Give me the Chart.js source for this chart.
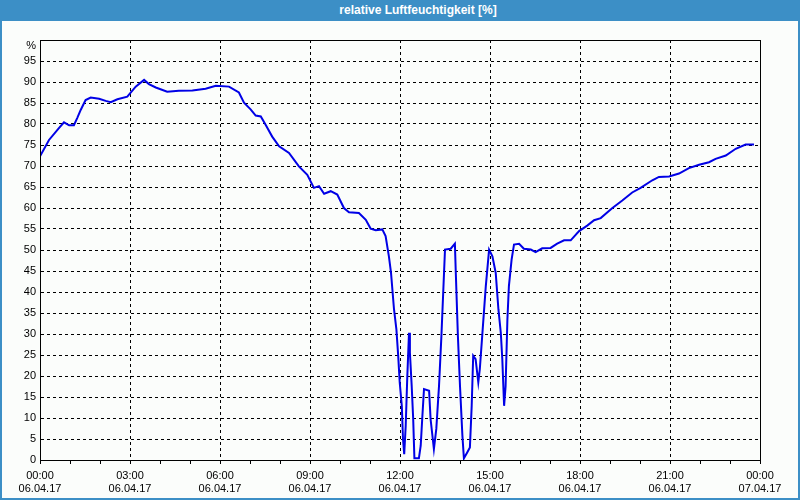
<!DOCTYPE html>
<html>
<head>
<meta charset="utf-8">
<script src="https://cdn.jsdelivr.net/npm/chart.js@4"></script>
<style>
  html, body { margin: 0; padding: 0; background: #fbfdfb; }
  #frame {
    position: relative; width: 800px; height: 500px; box-sizing: border-box;
    border: 2px solid #3c8fc6; border-top: none; overflow: hidden;
  }
  #bar {
    position: absolute; left: -2px; top: 0; width: 800px; height: 21px; box-sizing: border-box;
    background: #3c8fc6; color: #fff; font: bold 12px "Liberation Sans", sans-serif;
    line-height: 21px; text-align: center; padding-left: 36px; z-index: 2;
  }
  #chart { position: absolute; left: -2px; top: 0; }
</style>
</head>
<body>
<div id="frame">
  <div id="bar">relative Luftfeuchtigkeit [%]</div>
  <canvas id="chart" width="800" height="500"></canvas>
</div>
<script>
// hours since 06.04.17 00:00
const hours = [
  0.00, 0.30, 0.63, 0.80, 0.97, 1.13, 1.24, 1.36, 1.52, 1.69, 1.97, 2.19, 2.36, 2.58, 2.91,
  3.19, 3.47, 3.63, 3.86, 4.24, 4.63, 5.08, 5.52, 5.86, 6.30, 6.63, 6.80, 7.02, 7.19, 7.36,
  7.52, 7.74, 7.97, 8.30, 8.63, 8.91, 9.13, 9.30, 9.47, 9.69, 9.91, 10.13, 10.30, 10.63, 10.86,
  11.02, 11.19, 11.41, 11.52, 11.63, 11.70, 11.80, 11.88, 11.94, 11.99, 12.06, 12.10, 12.14, 12.19,
  12.24, 12.30, 12.33, 12.39, 12.44, 12.48, 12.63, 12.69, 12.74, 12.80, 12.97, 13.02, 13.13, 13.21,
  13.30, 13.38, 13.50, 13.69, 13.83, 13.86, 13.93, 14.00, 14.08, 14.13, 14.24, 14.33, 14.39, 14.44,
  14.52, 14.61, 14.66, 14.74, 14.86, 14.97, 15.08, 15.19, 15.28, 15.36, 15.41, 15.47, 15.52, 15.58,
  15.63, 15.72, 15.80, 15.97, 16.13, 16.36, 16.52, 16.74, 17.02, 17.24, 17.47, 17.69, 17.97, 18.24,
  18.47, 18.69, 19.08, 19.41, 19.74, 20.02, 20.41, 20.63, 20.97, 21.30, 21.63, 21.97, 22.30, 22.52,
  22.86, 23.19, 23.52, 23.80
];
const humidity = [
  72.3, 76.2, 79.0, 80.4, 79.7, 79.7, 81.4, 83.4, 85.7, 86.3, 86.0, 85.5, 85.2, 85.9, 86.5,
  88.9, 90.5, 89.5, 88.7, 87.7, 87.9, 88.0, 88.4, 89.1, 88.9, 87.5, 85.1, 83.5, 82.0, 81.8,
  79.8, 77.0, 74.7, 73.1, 69.9, 67.9, 64.8, 65.2, 63.4, 64.0, 63.2, 60.0, 59.0, 58.8, 57.2,
  55.1, 54.7, 54.9, 53.3, 48.5, 44.6, 35.9, 31.1, 24.8, 18.5, 12.9, 5.0, 1.4, 8.1,
  19.2, 30.3, 25.6, 17.6, 9.7, 0.4, 0.4, 3.4, 9.7, 16.9, 16.5, 9.7, 2.6, 7.4,
  17.6, 29.5, 50.1, 50.3, 51.5, 44.6, 29.5, 17.6, 5.8, 0.4, 1.8, 3.0, 12.9, 24.8,
  24.0, 18.5, 21.6, 29.5, 41.4, 50.1, 48.5, 44.6, 35.9, 30.3, 24.0, 12.9, 17.6, 33.5,
  41.4, 47.7, 51.3, 51.5, 50.3, 50.1, 49.5, 50.4, 50.5, 51.5, 52.3, 52.3, 54.5, 55.8,
  57.1, 57.6, 60.0, 61.8, 63.7, 64.8, 66.6, 67.4, 67.5, 68.2, 69.5, 70.3, 70.9, 71.7,
  72.5, 74.1, 75.1, 75.1
];
const tickTimes = ["00:00", "03:00", "06:00", "09:00", "12:00", "15:00", "18:00", "21:00", "00:00"];
const tickDates = ["06.04.17", "06.04.17", "06.04.17", "06.04.17", "06.04.17", "06.04.17", "06.04.17", "06.04.17", "07.04.17"];

const points = hours.map((h, i) => ({ x: h, y: humidity[i] }));
const tickFont = { family: "Liberation Sans", size: 11 };

// frame around plot + "%" unit label
const frameBox = {
  id: "frameBox",
  afterDraw(chart) {
    const { ctx, chartArea: a } = chart;
    ctx.save();
    ctx.strokeStyle = "#000";
    ctx.lineWidth = 1;
    ctx.strokeRect(a.left + 0.5, a.top + 0.5, a.right - a.left, a.bottom - a.top);
    ctx.fillStyle = "#000";
    ctx.font = "11px 'Liberation Sans'";
    ctx.textAlign = "right";
    ctx.textBaseline = "middle";
    ctx.fillText("%", a.left - 4, a.top + 6);
    ctx.restore();
  },
};

new Chart(document.getElementById("chart"), {
  type: "line",
  data: {
    datasets: [
      {
        data: points,
        borderColor: "#0000e6",
        borderWidth: 2,
        pointRadius: 0,
        fill: false,
        tension: 0,
      },
    ],
  },
  options: {
    responsive: false,
    animation: false,
    layout: { padding: { top: 40, right: 40, left: 0, bottom: 0 } },
    scales: {
      x: {
        type: "linear",
        min: 0,
        max: 24,
        afterFit: (s) => { s.height = 40; },
        ticks: {
          stepSize: 1,
          autoSkip: false,
          maxRotation: 0,
          padding: 5,
          color: "#000",
          font: tickFont,
          callback: (v) => (v % 3 === 0 ? [tickTimes[v / 3], tickDates[v / 3]] : ""),
        },
        grid: {
          color: (c) => (c.tick && c.tick.value % 3 === 0 ? "#000" : "rgba(0,0,0,0)"),
          tickColor: "#000",
          tickLength: 4,
        },
        border: { color: "#000", dash: [3, 3] },
      },
      y: {
        min: 0,
        max: 100,
        afterFit: (s) => { s.width = 40; },
        ticks: {
          stepSize: 5,
          padding: 4,
          color: "#000",
          font: tickFont,
          callback: (v) => (v === 100 ? "" : v),
        },
        grid: { color: "#000", drawTicks: false },
        border: { color: "#000", dash: [3, 3] },
      },
    },
    plugins: {
      legend: { display: false },
      tooltip: { enabled: false },
    },
  },
  plugins: [frameBox],
});
</script>
</body>
</html>
